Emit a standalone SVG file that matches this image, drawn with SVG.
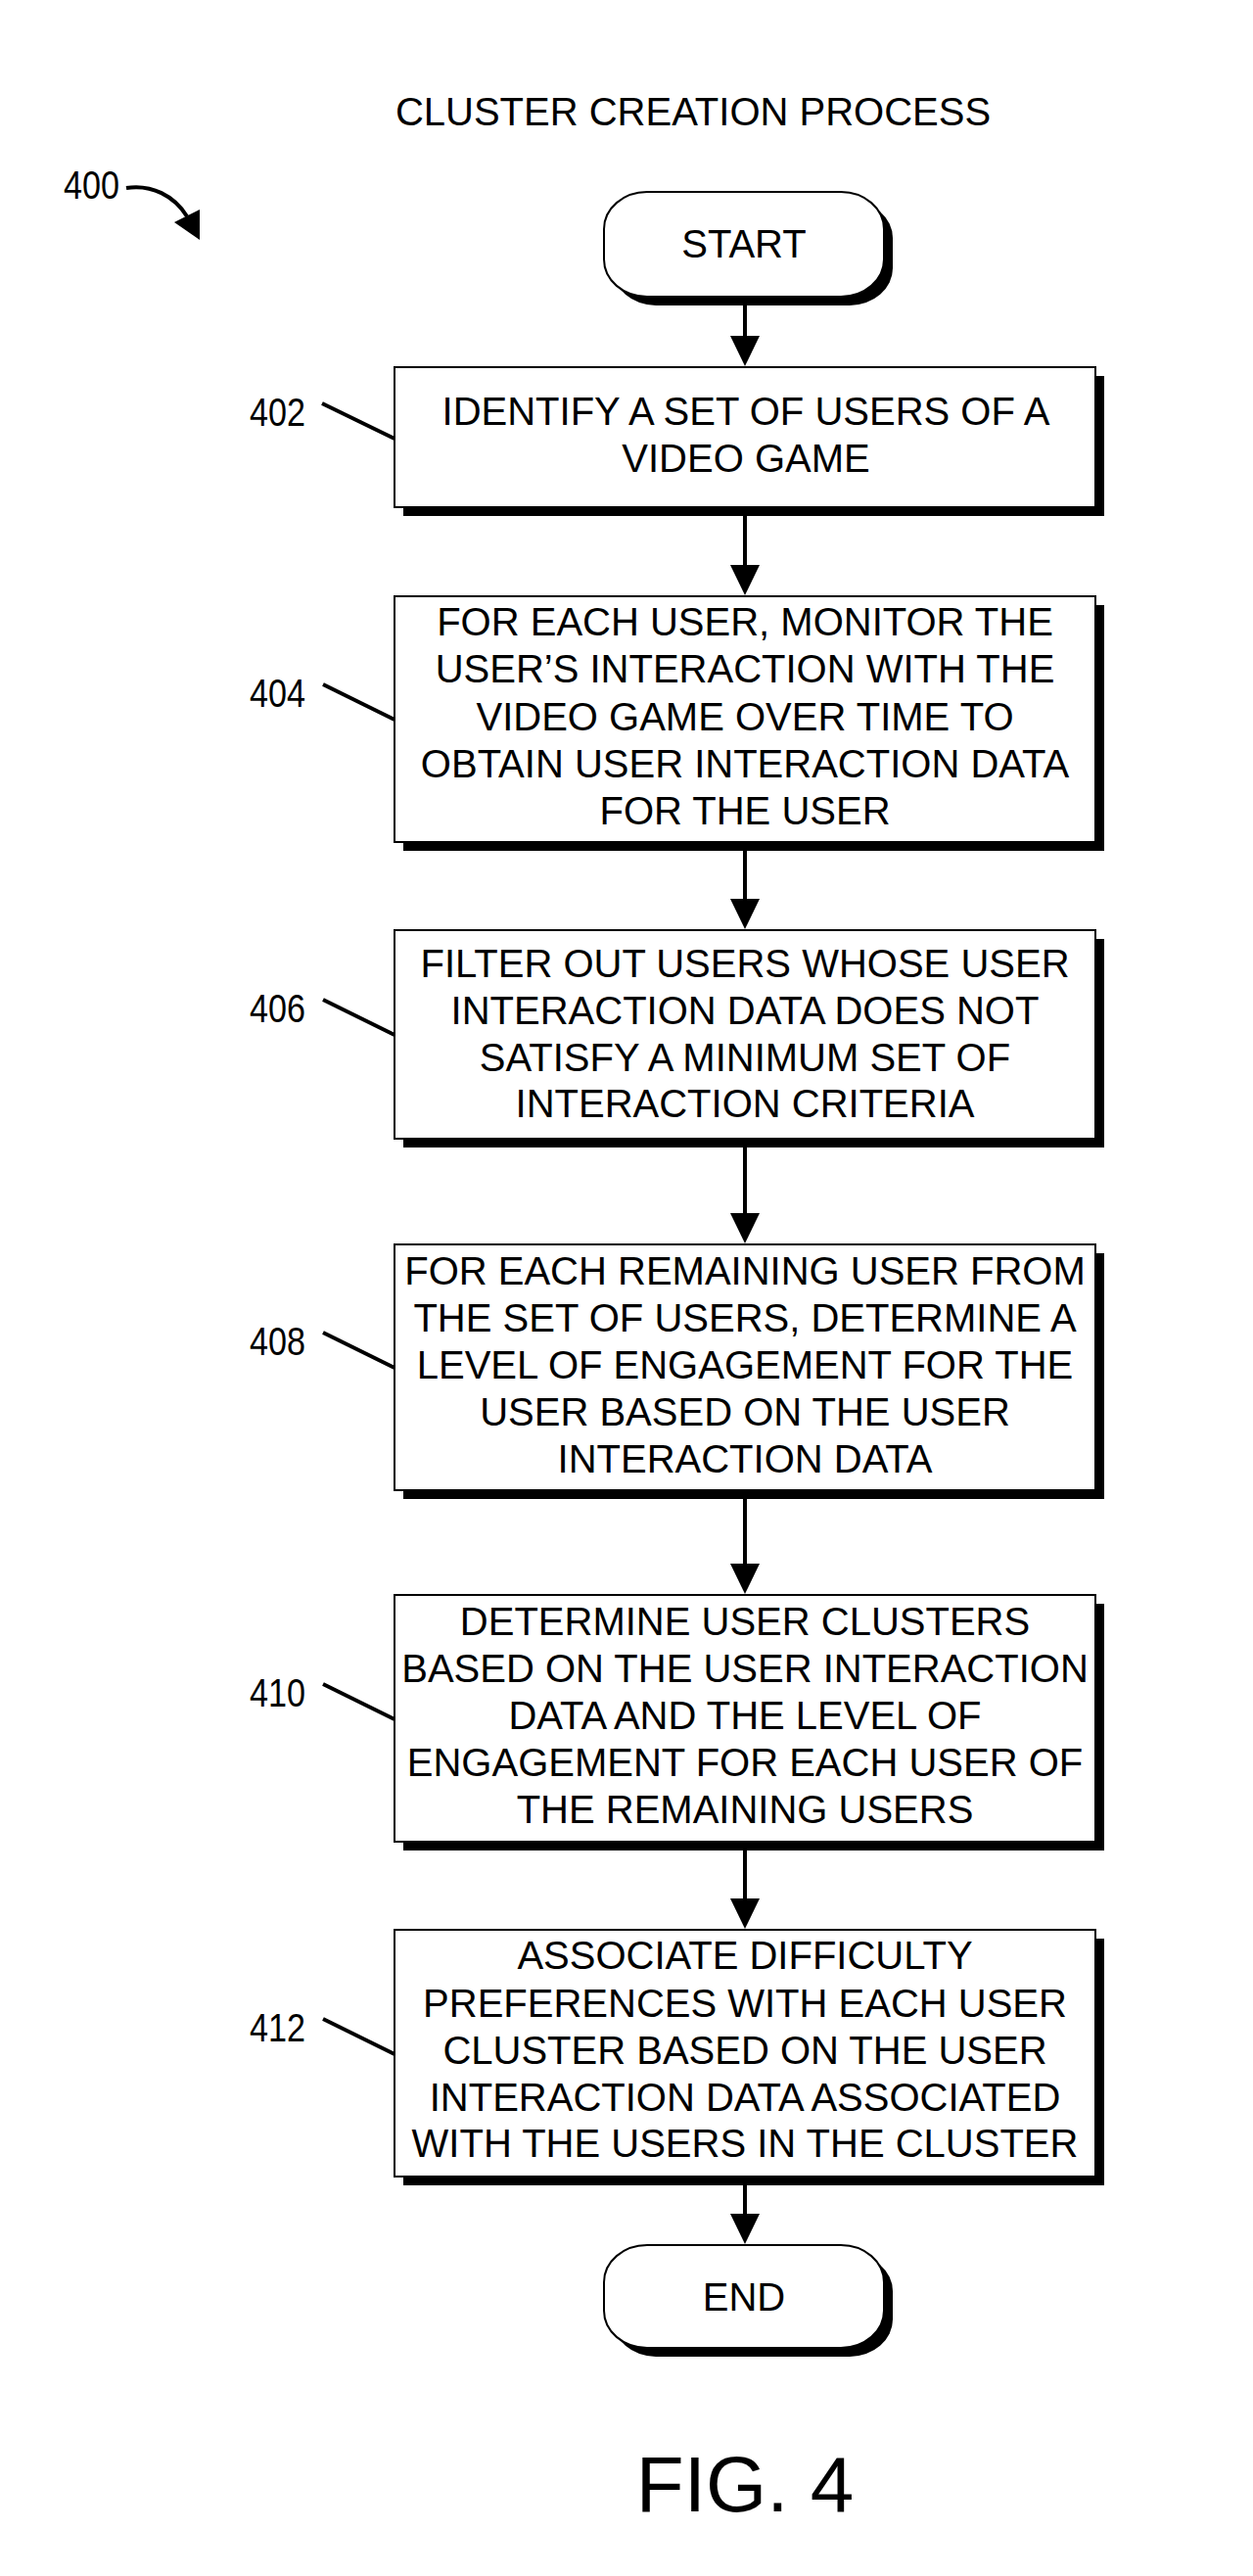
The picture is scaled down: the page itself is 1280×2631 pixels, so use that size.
<svg xmlns="http://www.w3.org/2000/svg" width="1280" height="2631" viewBox="0 0 1280 2631">
<defs>
<style>
text{font-family:"Liberation Sans",Arial,sans-serif;fill:#000}
.t{font-size:40px;text-anchor:middle}
.lbl{font-size:41px}
.box{fill:#fff;stroke:#000;stroke-width:2}
.sh{fill:#000}
.conn{stroke:#000;stroke-width:4;fill:none}
.lead{stroke:#000;stroke-width:4;fill:none}
</style>
<marker id="ah" markerUnits="userSpaceOnUse" markerWidth="31" markerHeight="30" viewBox="0 0 31 30" refX="1" refY="15" orient="auto">
<path d="M0,0 L31,15 L0,30 z" fill="#000"/>
</marker>
</defs>
<rect width="1280" height="2631" fill="#fff"/>
<text class="t" x="708" y="128">CLUSTER CREATION PROCESS</text>
<g id="ref400">
<text class="lbl" x="65" y="203" textLength="57" lengthAdjust="spacingAndGlyphs">400</text>
<path class="lead" d="M129,192 C155,188 178,200 191,221"/>
<polygon points="178,227 204,214 204,245" fill="#000"/>
</g>
<g id="connectors">
<line class="conn" x1="761" y1="303" x2="761" y2="344" marker-end="url(#ah)"/>
<line class="conn" x1="761" y1="518" x2="761" y2="578" marker-end="url(#ah)"/>
<line class="conn" x1="761" y1="860" x2="761" y2="919" marker-end="url(#ah)"/>
<line class="conn" x1="761" y1="1163" x2="761" y2="1240" marker-end="url(#ah)"/>
<line class="conn" x1="761" y1="1522" x2="761" y2="1598" marker-end="url(#ah)"/>
<line class="conn" x1="761" y1="1881" x2="761" y2="1940" marker-end="url(#ah)"/>
<line class="conn" x1="761" y1="2223" x2="761" y2="2262" marker-end="url(#ah)"/>
</g>
<g id="start">
<rect class="sh" x="626" y="205" width="286" height="107" rx="44" ry="38"/>
<rect class="box" x="617" y="196" width="286" height="107" rx="44" ry="38"/>
<text class="t" x="760" y="263">START</text>
</g>
<g id="n402">
<rect class="sh" x="412" y="384" width="716" height="143"/>
<rect class="box" x="403" y="375" width="716" height="143"/>
<text class="t" x="762" y="434">IDENTIFY A SET OF USERS OF A</text>
<text class="t" x="762" y="482">VIDEO GAME</text>
<text class="lbl" x="255" y="435" textLength="57" lengthAdjust="spacingAndGlyphs">402</text>
<line class="lead" x1="329" y1="412" x2="403" y2="448"/>
</g>
<g id="n404">
<rect class="sh" x="412" y="618" width="716" height="251"/>
<rect class="box" x="403" y="609" width="716" height="251"/>
<text class="t" x="761" y="649">FOR EACH USER, MONITOR THE</text>
<text class="t" x="761" y="697">USER’S INTERACTION WITH THE</text>
<text class="t" x="761" y="746">VIDEO GAME OVER TIME TO</text>
<text class="t" x="761" y="794">OBTAIN USER INTERACTION DATA</text>
<text class="t" x="761" y="842">FOR THE USER</text>
<text class="lbl" x="255" y="722" textLength="57" lengthAdjust="spacingAndGlyphs">404</text>
<line class="lead" x1="330" y1="699" x2="403" y2="735"/>
</g>
<g id="n406">
<rect class="sh" x="412" y="959" width="716" height="213"/>
<rect class="box" x="403" y="950" width="716" height="213"/>
<text class="t" x="761" y="998">FILTER OUT USERS WHOSE USER</text>
<text class="t" x="761" y="1046">INTERACTION DATA DOES NOT</text>
<text class="t" x="761" y="1094">SATISFY A MINIMUM SET OF</text>
<text class="t" x="761" y="1141">INTERACTION CRITERIA</text>
<text class="lbl" x="255" y="1044" textLength="57" lengthAdjust="spacingAndGlyphs">406</text>
<line class="lead" x1="330" y1="1021" x2="403" y2="1057"/>
</g>
<g id="n408">
<rect class="sh" x="412" y="1280" width="716" height="251"/>
<rect class="box" x="403" y="1271" width="716" height="251"/>
<text class="t" x="761" y="1312">FOR EACH REMAINING USER FROM</text>
<text class="t" x="761" y="1360">THE SET OF USERS, DETERMINE A</text>
<text class="t" x="761" y="1408">LEVEL OF ENGAGEMENT FOR THE</text>
<text class="t" x="761" y="1456">USER BASED ON THE USER</text>
<text class="t" x="761" y="1504">INTERACTION DATA</text>
<text class="lbl" x="255" y="1384" textLength="57" lengthAdjust="spacingAndGlyphs">408</text>
<line class="lead" x1="330" y1="1361" x2="403" y2="1397"/>
</g>
<g id="n410">
<rect class="sh" x="412" y="1638" width="716" height="252"/>
<rect class="box" x="403" y="1629" width="716" height="252"/>
<text class="t" x="761" y="1670">DETERMINE USER CLUSTERS</text>
<text class="t" x="761" y="1718">BASED ON THE USER INTERACTION</text>
<text class="t" x="761" y="1766">DATA AND THE LEVEL OF</text>
<text class="t" x="761" y="1814">ENGAGEMENT FOR EACH USER OF</text>
<text class="t" x="761" y="1862">THE REMAINING USERS</text>
<text class="lbl" x="255" y="1743" textLength="57" lengthAdjust="spacingAndGlyphs">410</text>
<line class="lead" x1="330" y1="1720" x2="403" y2="1756"/>
</g>
<g id="n412">
<rect class="sh" x="412" y="1980" width="716" height="252"/>
<rect class="box" x="403" y="1971" width="716" height="252"/>
<text class="t" x="761" y="2011">ASSOCIATE DIFFICULTY</text>
<text class="t" x="761" y="2060">PREFERENCES WITH EACH USER</text>
<text class="t" x="761" y="2108">CLUSTER BASED ON THE USER</text>
<text class="t" x="761" y="2156">INTERACTION DATA ASSOCIATED</text>
<text class="t" x="761" y="2203">WITH THE USERS IN THE CLUSTER</text>
<text class="lbl" x="255" y="2085" textLength="57" lengthAdjust="spacingAndGlyphs">412</text>
<line class="lead" x1="330" y1="2062" x2="403" y2="2098"/>
</g>
<g id="end">
<rect class="sh" x="626" y="2302" width="286" height="105" rx="44" ry="38"/>
<rect class="box" x="617" y="2293" width="286" height="105" rx="44" ry="38"/>
<text class="t" x="760" y="2360">END</text>
</g>
<text x="761" y="2565" style="font-size:80px;text-anchor:middle">FIG. 4</text>
</svg>
